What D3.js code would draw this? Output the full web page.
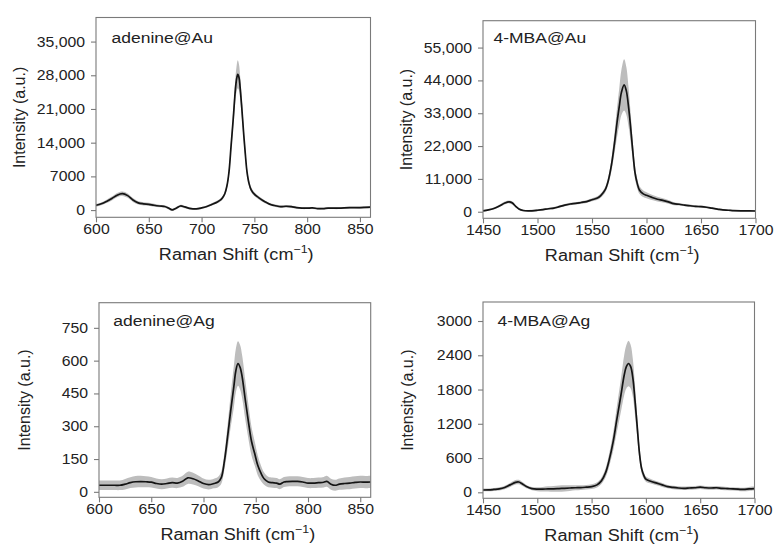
<!DOCTYPE html>
<html><head><meta charset="utf-8">
<script src="https://cdn.jsdelivr.net/npm/d3@7"></script>
<style>
body{margin:0;background:#fff}
svg text{font-family:"Liberation Sans",Arial,Helvetica,sans-serif;fill:#222}
</style>
</head><body>
<svg id="chart" width="774" height="547"></svg>
<script>
// ---------- data ----------
const adenineAuShift = [600,605,610,615,620,625,630,635,640,645,650,655,660,665,668,672,676,680,684,690,695,700,705,710,715,718,720,722,724,726,728,730,732,733,734.3,735.5,736.5,738,740,741.5,743,745,747,750,754,758,762,766,770,775,780,785,790,795,800,805,810,815,820,830,840,850,860];
const adenineAuMean  = [1000,1300,1800,2400,3100,3400,3000,2100,1500,1300,1200,1000,850,750,500,50,400,850,650,300,250,450,750,1200,1700,2100,2600,3400,5000,8000,13500,19000,25000,27000,28200,27500,25500,21500,15500,11500,8000,5500,4200,3300,2600,2000,1500,1100,900,700,800,700,500,400,400,450,300,300,400,400,500,500,600];
const adenineAuSd    = [300,300,350,400,450,450,450,400,350,350,300,300,250,250,250,250,250,250,250,200,200,200,200,250,300,300,350,400,500,800,1300,1800,2300,2600,2900,2700,2400,2000,1500,1100,800,600,500,400,350,300,250,250,250,250,250,250,200,200,200,200,200,200,200,200,200,200,200];

const mbaAuShift = [1450,1455,1460,1465,1470,1474,1477,1480,1483,1487,1492,1500,1505,1510,1515,1520,1525,1530,1535,1540,1545,1550,1555,1558,1562,1565,1568,1571,1573,1575,1577,1579.5,1581.5,1583.5,1585,1586.5,1588,1589.5,1591.5,1593.5,1597,1600,1605,1610,1615,1620,1625,1630,1635,1640,1645,1650,1655,1660,1665,1670,1675,1680,1690,1700];
const mbaAuMean  = [300,600,1100,1900,2900,3300,2900,1800,900,400,300,500,700,1000,1200,1700,2200,2600,2800,3100,3400,4000,4600,5400,7300,10500,16000,24000,30000,35200,40000,42500,40500,35200,30000,24000,18000,13000,9500,7300,6000,5500,4800,4200,3800,3300,2700,2500,2200,2000,1800,1700,1500,1200,900,600,500,350,300,250];
const mbaAuSd    = [300,300,300,400,500,500,500,400,300,300,300,300,300,350,350,400,400,400,400,400,450,500,600,700,900,1300,2200,3600,5000,6200,7600,8600,8000,6600,5200,4000,3000,2200,1600,1300,1100,1000,900,800,700,600,500,450,400,400,350,350,300,300,300,300,250,250,250,250];

const adenineAgShift = [600,605,610,615,620,625,630,635,640,645,650,655,660,665,670,675,680,685,690,695,700,705,710,714,717,720,723,726,729,731,733,735,737,740,743,746,749,752,755,758,762,766,770,773,777,780,785,790,795,800,805,810,815,818,822,826,830,835,840,845,850,855,860];
const adenineAgMean  = [30,30,30,30,30,35,42,46,47,46,44,38,35,38,42,40,48,64,60,50,38,33,38,45,65,140,250,370,480,555,587,570,526,420,320,230,175,120,85,60,45,42,40,35,45,47,48,48,45,40,40,42,44,48,35,30,35,38,40,43,45,44,45];
const adenineAgSd    = [22,22,22,22,22,24,25,26,26,25,24,23,23,23,23,23,25,28,27,25,23,22,22,24,28,38,55,75,95,100,102,102,98,90,78,65,55,45,35,28,24,23,23,23,23,23,23,23,23,23,23,23,24,25,25,25,26,27,28,28,28,28,28];

const mbaAgShift = [1450,1455,1460,1465,1470,1475,1480,1483,1486,1490,1495,1500,1505,1510,1515,1520,1525,1530,1535,1540,1545,1550,1555,1559,1563,1566,1570,1573,1577,1580,1582,1584,1586,1588,1590,1592,1594,1596,1598,1600,1605,1610,1615,1620,1625,1630,1635,1640,1645,1650,1655,1660,1665,1670,1675,1680,1685,1690,1695,1700];
const mbaAgMean  = [40,42,50,60,85,130,175,180,150,100,65,55,55,60,60,65,70,75,80,82,90,100,130,200,350,550,900,1250,1700,2050,2200,2256,2200,2000,1600,1150,700,420,300,230,190,160,130,100,85,75,70,75,80,90,80,75,80,70,65,60,55,50,60,65];
const mbaAgSd    = [25,25,25,28,30,35,40,40,35,30,30,35,40,45,50,55,55,50,45,40,40,40,45,55,80,110,160,220,290,350,380,400,380,330,260,190,120,80,60,45,40,35,35,30,30,30,30,30,30,30,30,30,30,30,30,30,30,30,35,35];

const adenineXTicks = [600,650,700,750,800,850];
const mbaXTicks = [1450,1500,1550,1600,1650,1700];
const adenineAuYTicks = [0,7000,14000,21000,28000,35000];
const adenineAuYLabels = ["0","7000","14,000","21,000","28,000","35,000"];
const mbaAuYTicks = [0,11000,22000,33000,44000,55000];
const mbaAuYLabels = ["0","11,000","22,000","33,000","44,000","55,000"];
const adenineAgYTicks = [0,150,300,450,600,750];
const adenineAgYLabels = ["0","150","300","450","600","750"];
const mbaAgYTicks = [0,600,1200,1800,2400,3000];
const mbaAgYLabels = ["0","600","1200","1800","2400","3000"];

const panelLabels = ["adenine@Au","4-MBA@Au","adenine@Ag","4-MBA@Ag"];
const xTitle = "Raman Shift (cm";
const yTitle = "Intensity (a.u.)";

// ---------- layout ----------
const panels = [
  {label:panelLabels[0], xs:adenineAuShift, mean:adenineAuMean, sd:adenineAuSd,
   xDomain:[600,860], yDomain:[-1500,40000], xTicks:adenineXTicks, yTicks:adenineAuYTicks, yLabels:adenineAuYLabels,
   box:{l:96,r:370.5,t:17.5,b:217.3}, labelXY:[111.5,42.7], yTitleX:25},
  {label:panelLabels[1], xs:mbaAuShift, mean:mbaAuMean, sd:mbaAuSd,
   xDomain:[1450,1700], yDomain:[-2200,64000], xTicks:mbaXTicks, yTicks:mbaAuYTicks, yLabels:mbaAuYLabels,
   box:{l:483,r:755.5,t:20.7,b:218.3}, labelXY:[493.5,42.7], yTitleX:412},
  {label:panelLabels[2], xs:adenineAgShift, mean:adenineAgMean, sd:adenineAgSd,
   xDomain:[600,860], yDomain:[-25,865], xTicks:adenineXTicks, yTicks:adenineAgYTicks, yLabels:adenineAgYLabels,
   box:{l:99,r:370.7,t:302.7,b:497.3}, labelXY:[113.3,325.5], yTitleX:30},
  {label:panelLabels[3], xs:mbaAgShift, mean:mbaAgMean, sd:mbaAgSd,
   xDomain:[1450,1700], yDomain:[-105,3333], xTicks:mbaXTicks, yTicks:mbaAgYTicks, yLabels:mbaAgYLabels,
   box:{l:483,r:754.5,t:302,b:498.3}, labelXY:[497.5,326], yTitleX:413}
];

const STRETCH = 1.13;
const svg = d3.select("#chart");
const boxColor = "#7a7a7a";

panels.forEach((p, k) => {
  const x = d3.scaleLinear().domain(p.xDomain).range([p.box.l, p.box.r]);
  const y = d3.scaleLinear().domain(p.yDomain).range([p.box.b, p.box.t]);
  const idx = d3.range(p.xs.length);

  svg.append("clipPath").attr("id","clip"+k).append("rect")
    .attr("x",p.box.l).attr("y",p.box.t).attr("width",p.box.r-p.box.l).attr("height",p.box.b-p.box.t);

  const g = svg.append("g").attr("clip-path","url(#clip"+k+")");
  const area = d3.area()
    .x(i => x(p.xs[i])).y0(i => y(p.mean[i]-p.sd[i])).y1(i => y(p.mean[i]+p.sd[i]))
    .curve(d3.curveCatmullRom.alpha(0.5));
  const line = d3.line()
    .x(i => x(p.xs[i])).y(i => y(p.mean[i]))
    .curve(d3.curveCatmullRom.alpha(0.5));
  g.append("path").attr("d", area(idx)).attr("fill","#bdbdbd").attr("stroke","none");
  g.append("path").attr("d", line(idx)).attr("fill","none").attr("stroke","#141414").attr("stroke-width",1.7);

  // box
  svg.append("rect").attr("x",p.box.l).attr("y",p.box.t)
    .attr("width",p.box.r-p.box.l).attr("height",p.box.b-p.box.t)
    .attr("fill","none").attr("stroke",boxColor).attr("stroke-width",1.1);

  // y axis
  const ya = svg.append("g").attr("transform",`translate(${p.box.l},0)`)
    .call(d3.axisLeft(y).tickValues(p.yTicks).tickFormat((d,i)=>p.yLabels[i]).tickSize(5).tickPadding(6));
  ya.select(".domain").remove();
  ya.selectAll(".tick line").attr("stroke",boxColor).attr("stroke-width",1.1);
  ya.selectAll(".tick text").attr("font-size",14).attr("font-family",null).attr("fill","#222")
    .attr("transform","translate(-11,0) scale("+STRETCH+",1) translate(11,0)");

  // x axis
  const xa = svg.append("g").attr("transform",`translate(0,${p.box.b})`)
    .call(d3.axisBottom(x).tickValues(p.xTicks).tickFormat(d3.format("d")).tickSize(5).tickPadding(1.5));
  xa.select(".domain").remove();
  xa.selectAll(".tick line").attr("stroke",boxColor).attr("stroke-width",1.1);
  xa.selectAll(".tick text").attr("font-size",14).attr("font-family",null).attr("fill","#222")
    .attr("transform","scale("+STRETCH+",1)");

  // x title
  const cx = (p.box.l + p.box.r)/2 + 3;
  const xt = svg.append("text")
    .attr("transform",`translate(${cx},${p.box.b+43}) scale(${STRETCH},1)`)
    .attr("text-anchor","middle").attr("font-size",16);
  xt.append("tspan").text(xTitle);
  xt.append("tspan").attr("font-size",11).attr("dy",-7).text("−1");
  xt.append("tspan").attr("dy",7).text(")");

  // y title
  svg.append("text")
    .attr("transform",`translate(${p.yTitleX},${(p.box.t+p.box.b)/2}) rotate(-90)`)
    .attr("text-anchor","middle").attr("font-size",16).text(yTitle);

  // panel label
  svg.append("text")
    .attr("transform",`translate(${p.labelXY[0]},${p.labelXY[1]}) scale(${STRETCH},1)`)
    .attr("font-size",15.5).text(p.label);
});
</script>
</body></html>
